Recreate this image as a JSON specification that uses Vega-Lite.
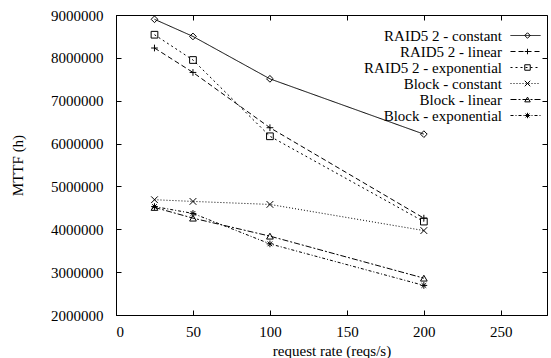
{
  "$schema": "https://vega.github.io/schema/vega-lite/v6.json",
  "width": 431,
  "height": 300,
  "autosize": "none",
  "padding": {"left": 116, "top": 15, "right": 4, "bottom": 43},
  "background": "white",
  "config": {
    "font": "Liberation Serif",
    "view": {"stroke": "black", "strokeWidth": 1},
    "axis": {
      "grid": false,
      "domainColor": "black",
      "tickColor": "black",
      "labelColor": "black",
      "titleColor": "black",
      "labelFont": "Liberation Serif",
      "titleFont": "Liberation Serif",
      "labelFontSize": 15,
      "titleFontSize": 15,
      "titleFontWeight": "normal",
      "tickSize": -5
    },
    "legend": {
      "labelFont": "Liberation Serif",
      "labelFontSize": 15,
      "labelColor": "black",
      "labelLimit": 400
    }
  },
  "data": {
    "values": [
      {"rate": 25, "mttf": 8900000, "series": "RAID5 2 - constant"},
      {"rate": 50, "mttf": 8500000, "series": "RAID5 2 - constant"},
      {"rate": 100, "mttf": 7510000, "series": "RAID5 2 - constant"},
      {"rate": 200, "mttf": 6220000, "series": "RAID5 2 - constant"},
      {"rate": 25, "mttf": 8230000, "series": "RAID5 2 - linear"},
      {"rate": 50, "mttf": 7660000, "series": "RAID5 2 - linear"},
      {"rate": 100, "mttf": 6370000, "series": "RAID5 2 - linear"},
      {"rate": 200, "mttf": 4260000, "series": "RAID5 2 - linear"},
      {"rate": 25, "mttf": 8540000, "series": "RAID5 2 - exponential"},
      {"rate": 50, "mttf": 7950000, "series": "RAID5 2 - exponential"},
      {"rate": 100, "mttf": 6170000, "series": "RAID5 2 - exponential"},
      {"rate": 200, "mttf": 4180000, "series": "RAID5 2 - exponential"},
      {"rate": 25, "mttf": 4690000, "series": "Block - constant"},
      {"rate": 50, "mttf": 4650000, "series": "Block - constant"},
      {"rate": 100, "mttf": 4580000, "series": "Block - constant"},
      {"rate": 200, "mttf": 3970000, "series": "Block - constant"},
      {"rate": 25, "mttf": 4510000, "series": "Block - linear"},
      {"rate": 50, "mttf": 4260000, "series": "Block - linear"},
      {"rate": 100, "mttf": 3840000, "series": "Block - linear"},
      {"rate": 200, "mttf": 2860000, "series": "Block - linear"},
      {"rate": 25, "mttf": 4530000, "series": "Block - exponential"},
      {"rate": 50, "mttf": 4370000, "series": "Block - exponential"},
      {"rate": 100, "mttf": 3660000, "series": "Block - exponential"},
      {"rate": 200, "mttf": 2690000, "series": "Block - exponential"}
    ]
  },
  "layer": [
    {
      "mark": {"type": "line", "color": "black", "strokeWidth": 1},
      "encoding": {
        "x": {
          "field": "rate", "type": "quantitative",
          "scale": {"domain": [0, 280], "nice": false},
          "axis": {"orient": "bottom", "values": [0, 50, 100, 150, 200, 250], "title": "request rate (reqs/s)", "labelPadding": 14, "titlePadding": 4}
        },
        "y": {
          "field": "mttf", "type": "quantitative",
          "scale": {"domain": [2000000, 9000000], "nice": false, "zero": false},
          "axis": {"orient": "left", "values": [2000000, 3000000, 4000000, 5000000, 6000000, 7000000, 8000000, 9000000], "format": "d", "title": "MTTF (h)", "labelPadding": 18, "titlePadding": 25}
        },
        "strokeDash": {
          "field": "series", "type": "nominal",
          "scale": {
            "domain": ["RAID5 2 - constant", "RAID5 2 - linear", "RAID5 2 - exponential", "Block - constant", "Block - linear", "Block - exponential"],
            "range": [[1, 0], [5, 3], [2, 3], [1, 2], [6, 2, 2, 2], [3, 2, 1, 2]]
          },
          "legend": {
            "title": null, "orient": "none", "legendX": 402, "legendY": 13,
            "padding": 0, "rowPadding": -1,
            "symbolType": "M-3,0L3,0", "symbolSize": 100,
            "symbolStrokeColor": "black", "symbolStrokeWidth": 1,
            "labelAlign": "right", "labelOffset": -31
          }
        }
      }
    },
    {
      "mark": {"type": "point", "filled": false, "color": "black", "strokeWidth": 1, "size": 45, "opacity": 1},
      "encoding": {
        "x": {
          "field": "rate", "type": "quantitative",
          "axis": {"orient": "top", "values": [0, 50, 100, 150, 200, 250], "labels": false, "title": null, "domain": false}
        },
        "y": {
          "field": "mttf", "type": "quantitative",
          "axis": {"orient": "right", "values": [2000000, 3000000, 4000000, 5000000, 6000000, 7000000, 8000000, 9000000], "labels": false, "title": null, "domain": false}
        },
        "shape": {
          "field": "series", "type": "nominal",
          "sort": ["RAID5 2 - constant", "RAID5 2 - linear", "RAID5 2 - exponential", "Block - constant", "Block - linear", "Block - exponential"],
          "scale": {
            "range": ["diamond", "M-1,0L1,0M0,-1L0,1", "square", "M-1,-1L1,1M-1,1L1,-1", "triangle-up", "M-1,0L1,0M0,-1L0,1M-0.7,-0.7L0.7,0.7M-0.7,0.7L0.7,-0.7"]
          },
          "legend": {
            "title": null, "orient": "none", "legendX": 404, "legendY": 13,
            "padding": 0, "rowPadding": -1,
            "symbolSize": 30, "symbolFillColor": "transparent",
            "symbolStrokeColor": "black", "symbolStrokeWidth": 1,
            "labelExpr": "' '", "labelOpacity": 0
          }
        }
      }
    }
  ],
  "resolve": {"axis": {"x": "independent", "y": "independent"}}
}
